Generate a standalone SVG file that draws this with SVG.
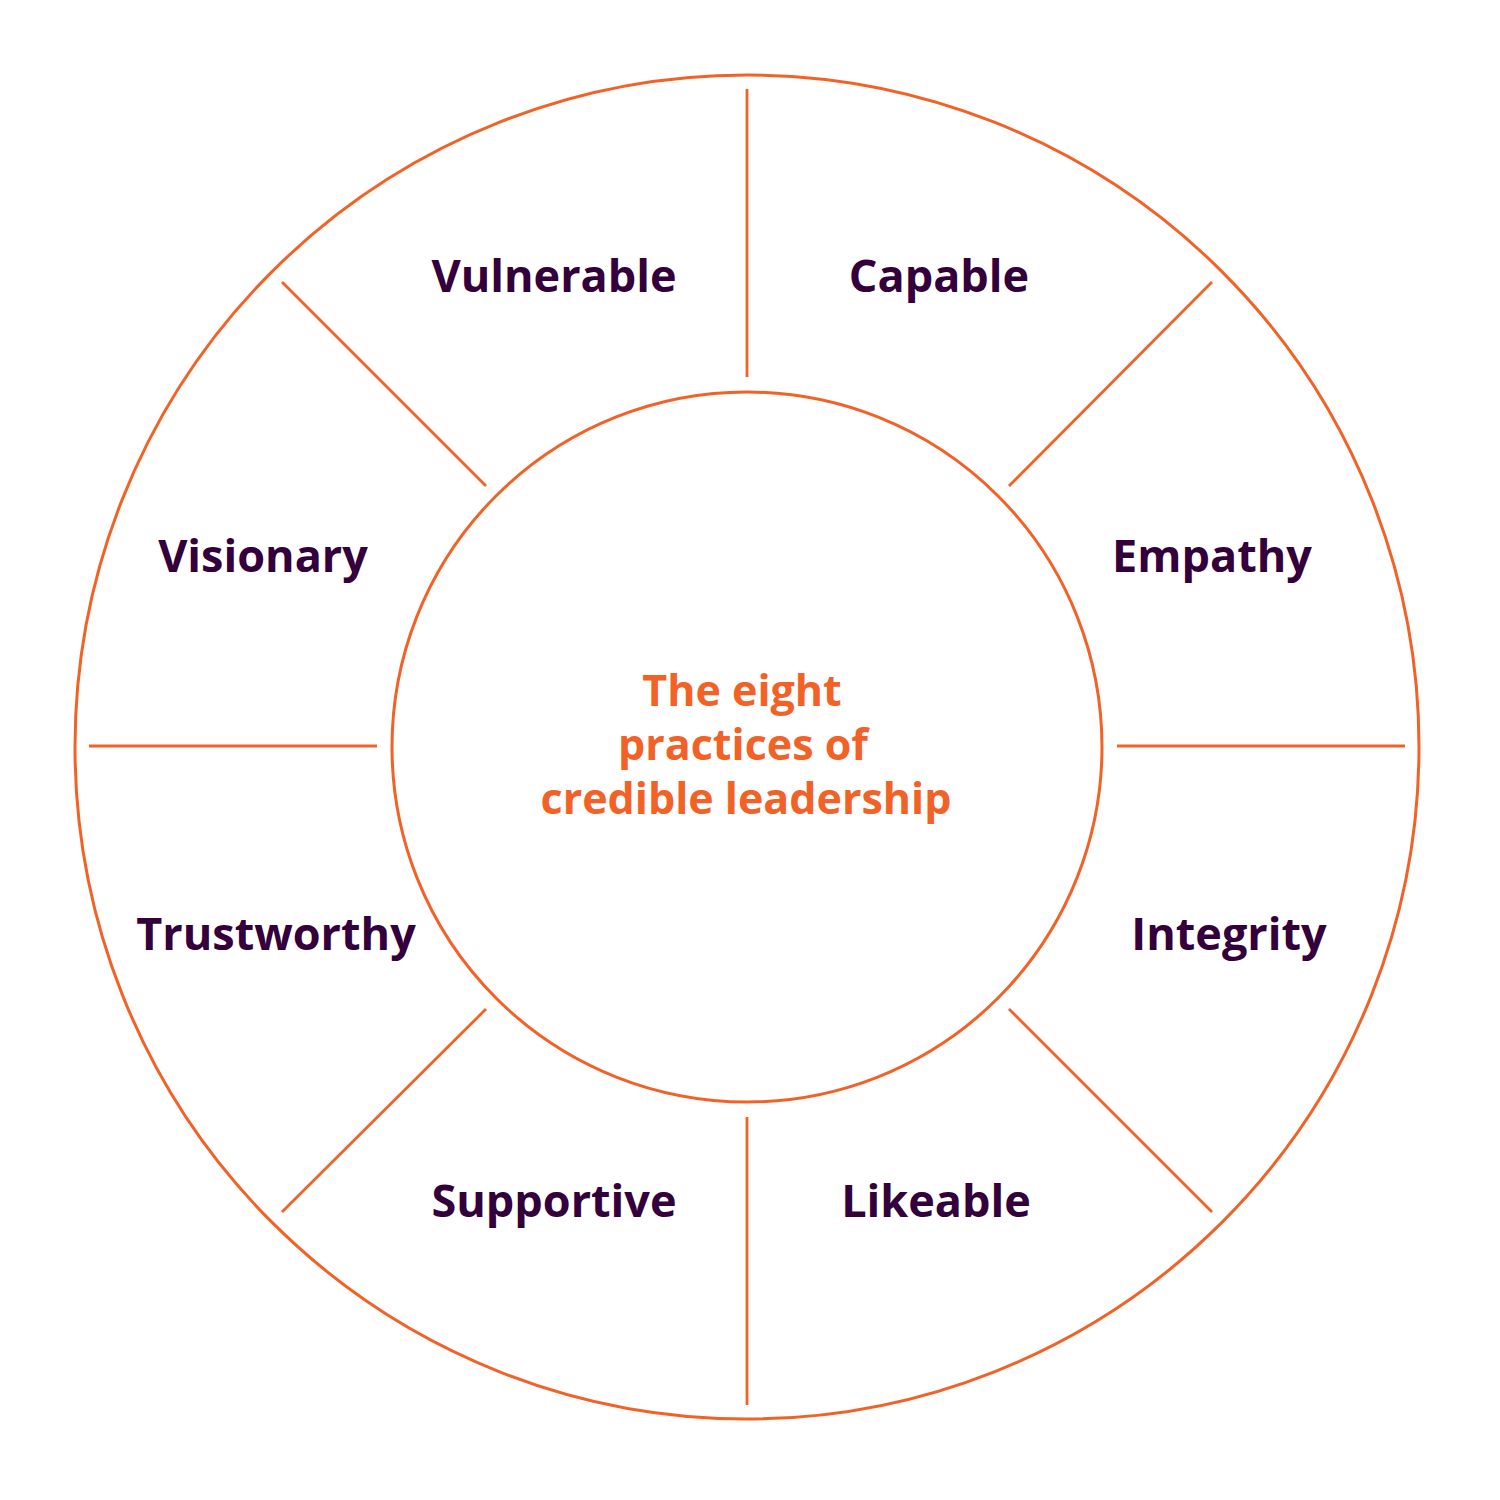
<svg xmlns="http://www.w3.org/2000/svg" width="1500" height="1500" viewBox="0 0 1500 1500">
<style>
.ring{fill:none;stroke:#f26227;stroke-width:3}
.div{stroke:#f26227;stroke-width:2.8;fill:none}
.lbl{font-family:"Open Sans","Liberation Sans",sans-serif;font-weight:700;font-size:45px;fill:#33003b;text-anchor:middle}
.ctr{font-family:"Open Sans","Liberation Sans",sans-serif;font-weight:700;font-size:43px;fill:#f26227;text-anchor:middle}
</style>
<rect width="1500" height="1500" fill="#fff"/>
<g id="outer-ring"><circle class="ring" cx="747" cy="747" r="672"/></g>
<g id="connectors">
<line class="div" x1="747" y1="89" x2="747" y2="377"/>
<line class="div" x1="747" y1="1117" x2="747" y2="1405"/>
<line class="div" x1="89" y1="746" x2="377" y2="746"/>
<line class="div" x1="1117" y1="746" x2="1405" y2="746"/>
<line class="div" x1="282" y1="282" x2="486" y2="486"/>
<line class="div" x1="1212" y1="282" x2="1009" y2="486"/>
<line class="div" x1="486" y1="1009" x2="282" y2="1212"/>
<line class="div" x1="1009" y1="1009" x2="1212" y2="1212"/>
</g>
<g id="center"><circle class="ring" cx="747" cy="747" r="355"/>
<text class="ctr" x="742" y="706">The eight</text>
<text class="ctr" x="743" y="760">practices of</text>
<text class="ctr" x="746" y="814">credible leadership</text></g>
<g id="vulnerable"><text class="lbl" x="554" y="292">Vulnerable</text></g>
<g id="capable"><text class="lbl" x="939" y="292">Capable</text></g>
<g id="visionary"><text class="lbl" x="263" y="572">Visionary</text></g>
<g id="empathy"><text class="lbl" x="1212" y="572">Empathy</text></g>
<g id="trustworthy"><text class="lbl" x="276" y="950">Trustworthy</text></g>
<g id="integrity"><text class="lbl" x="1229" y="950">Integrity</text></g>
<g id="supportive"><text class="lbl" x="554" y="1217">Supportive</text></g>
<g id="likeable"><text class="lbl" x="936" y="1217">Likeable</text></g>
</svg>
